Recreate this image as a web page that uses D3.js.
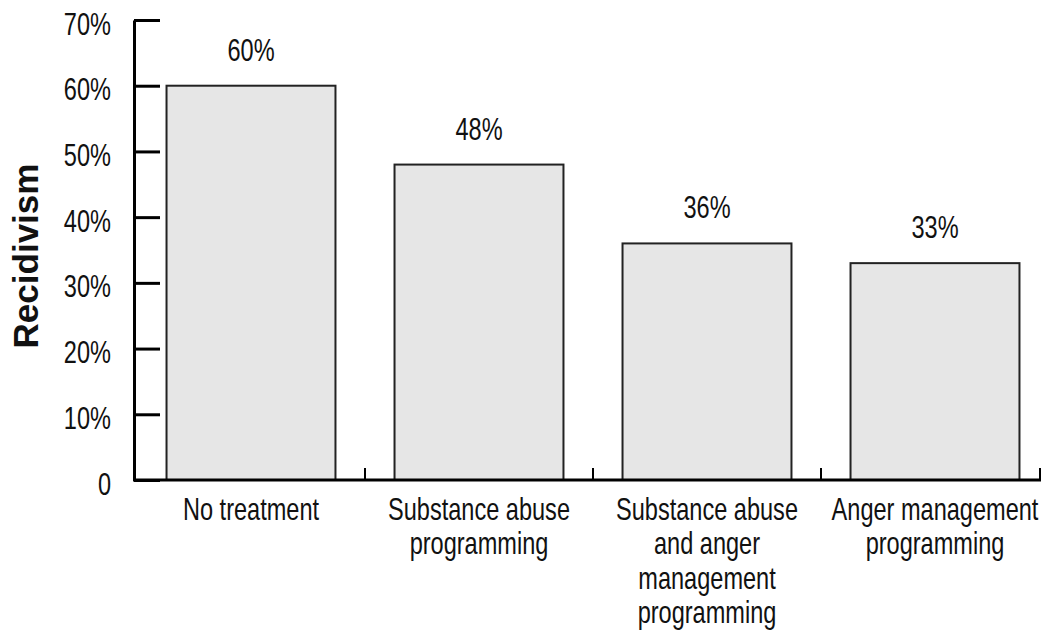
<!DOCTYPE html>
<meta charset="utf-8">
<html>
<head>
<style>
  body { margin: 0; background: #fff; }
  svg text { font-family: "Liberation Sans", Arial, sans-serif; font-size: 31px; fill: #111; }
  .ytitle { font-weight: bold; font-size: 35px !important; }
</style>
</head>
<script src="https://d3js.org/d3.v7.min.js"></script>
<body>
<div id="vis"></div>
<script>
  // chart data
  var categories = [
    ["No treatment"],
    ["Substance abuse", "programming"],
    ["Substance abuse", "and anger", "management", "programming"],
    ["Anger management", "programming"]
  ];
  var values = [60, 48, 36, 33];
  var yTicks = [0, 10, 20, 30, 40, 50, 60, 70];
  var yTickLabels = ["0", "10%", "20%", "30%", "40%", "50%", "60%", "70%"];

  var W = 1042, H = 643;
  var axisX = 134, baseY = 480, topY = 20;
  var squeeze = 0.76; // narrow look of the original font

  var svg = d3.select("#vis").append("svg")
    .attr("width", W)
    .attr("height", H);

  var x = d3.scaleBand()
    .domain(d3.range(categories.length))
    .range([137, 1049])
    .paddingInner(0.259)
    .paddingOuter(0.1295);

  var y = d3.scaleLinear().domain([0, 70]).range([baseY, topY]);

  // bars
  svg.selectAll(".bar")
    .data(values)
    .enter().append("rect")
    .attr("class", "bar")
    .attr("x", function(d, i) { return x(i); })
    .attr("y", function(d) { return y(d); })
    .attr("width", x.bandwidth())
    .attr("height", function(d) { return baseY - y(d); })
    .style("fill", "#e6e6e6")
    .style("stroke", "#222")
    .style("stroke-width", 2);

  // value labels
  svg.selectAll(".vlabel")
    .data(values)
    .enter().append("text")
    .attr("class", "vlabel")
    .attr("transform", function(d, i) {
      return "translate(" + (x(i) + x.bandwidth() / 2) + "," + (y(d) - 25) + ") scale(" + squeeze + ",1)";
    })
    .style("text-anchor", "middle")
    .text(function(d) { return d + "%"; });

  // y axis
  var yAxis = svg.append("g")
    .attr("transform", "translate(" + axisX + ",0)")
    .call(d3.axisLeft(y)
      .tickValues(yTicks)
      .tickSize(-26)
      .tickSizeOuter(0)
      .tickPadding(23)
      .tickFormat(function(d, i) { return yTickLabels[i]; }));
  yAxis.attr("font-family", null).attr("font-size", null);
  yAxis.select(".domain").style("stroke", "#000").style("stroke-width", 3);
  yAxis.selectAll(".tick line").style("stroke", "#000").style("stroke-width", 3);
  yAxis.selectAll(".tick text")
    .attr("dy", null)
    .attr("x", -23 / squeeze)
    .attr("y", 14)
    .attr("transform", "scale(" + squeeze + ",1)")
    .attr("fill", "#111");

  // x axis: baseline with upward ticks at category boundaries
  var xEnd = Math.min(x.range()[1], W - 2);
  var xAxis = svg.append("g");
  xAxis.append("line")
    .attr("x1", axisX - 1).attr("x2", xEnd + 1)
    .attr("y1", baseY).attr("y2", baseY)
    .style("stroke", "#000").style("stroke-width", 3);
  var bounds = d3.range(1, categories.length).map(function(i) { return x(i) - x.step() * x.paddingInner() / 2; });
  bounds.push(xEnd);
  xAxis.selectAll(".xtick")
    .data(bounds)
    .enter().append("line")
    .attr("class", "xtick")
    .attr("x1", function(d) { return d; }).attr("x2", function(d) { return d; })
    .attr("y1", baseY).attr("y2", baseY - 12)
    .style("stroke", "#000").style("stroke-width", 2);

  // category labels
  var cat = svg.selectAll(".clabel")
    .data(categories)
    .enter().append("text")
    .attr("class", "clabel")
    .attr("transform", function(d, i) {
      return "translate(" + (x(i) + x.bandwidth() / 2) + ",0) scale(" + squeeze + ",1)";
    })
    .style("text-anchor", "middle");
  cat.selectAll("tspan")
    .data(function(d) { return d; })
    .enter().append("tspan")
    .attr("x", 0)
    .attr("y", function(d, j) { return 520 + j * 34.5; })
    .text(function(d) { return d; });

  // y title
  svg.append("text")
    .attr("class", "ytitle")
    .attr("transform", "translate(38," + ((topY + baseY) / 2 + 6) + ") rotate(-90)")
    .style("text-anchor", "middle")
    .text("Recidivism");
</script>
</body>
</html>
